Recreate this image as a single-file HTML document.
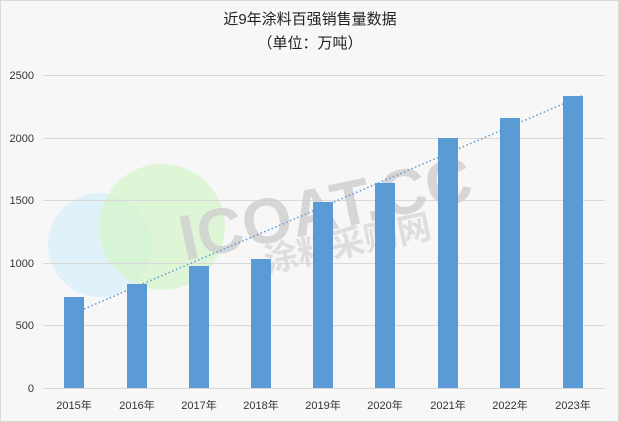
<!DOCTYPE html><html><head><meta charset="utf-8"><style>body{margin:0;background:#fff}svg{display:block}</style></head><body>
<svg width="619" height="422" xmlns="http://www.w3.org/2000/svg" font-family="Liberation Sans, Noto Sans CJK SC, sans-serif">
<rect x="0" y="0" width="619" height="422" fill="#f7f7f7"/>
<rect x="0.5" y="0.5" width="618" height="421" fill="none" stroke="#d9d9d9"/>
<text x="310" y="24" font-size="15" text-anchor="middle" fill="#222">近9年涂料百强销售量数据</text>
<text x="310" y="48" font-size="15" text-anchor="middle" fill="#222">（单位：万吨）</text>
<circle cx="100" cy="245" r="52" fill="#d6eefb" opacity="0.7"/>
<circle cx="162" cy="227" r="63" fill="#d4f5c8" opacity="0.7"/>
<g stroke="#d9d9d9" stroke-width="1">
<line x1="43" y1="75.5" x2="605" y2="75.5"/><line x1="43" y1="138.5" x2="605" y2="138.5"/>
<line x1="43" y1="200.5" x2="605" y2="200.5"/><line x1="43" y1="263.5" x2="605" y2="263.5"/>
<line x1="43" y1="325.5" x2="605" y2="325.5"/><line x1="43" y1="388.5" x2="605" y2="388.5"/></g>
<g font-size="11" fill="#333" text-anchor="end">
<text x="34" y="79">2500</text><text x="34" y="142">2000</text><text x="34" y="204">1500</text>
<text x="34" y="267">1000</text><text x="34" y="329">500</text><text x="34" y="392">0</text></g>
<text x="330" y="230" font-size="64" font-weight="bold" fill="#cfcfcf" opacity="0.8" transform="rotate(-12 330 230)" text-anchor="middle">ICOAT.CC</text>
<text x="350" y="255" font-size="34" font-weight="bold" fill="#d8d8d8" opacity="0.8" transform="rotate(-12 350 255)" text-anchor="middle">涂料采购网</text>
<g fill="#5b9bd5">
<rect x="64" y="297" width="20" height="91"/>
<rect x="127" y="284" width="20" height="104"/>
<rect x="189" y="266" width="20" height="122"/>
<rect x="251" y="259" width="20" height="129"/>
<rect x="313" y="202" width="20" height="186"/>
<rect x="375" y="183" width="20" height="205"/>
<rect x="438" y="138" width="20" height="250"/>
<rect x="500" y="118" width="20" height="270"/>
<rect x="563" y="96" width="20" height="292"/></g>
<line x1="84" y1="309" x2="584" y2="95" stroke="#5b9bd5" stroke-width="1.5" stroke-dasharray="1.5,2.5"/>
<g font-size="11" fill="#333" text-anchor="middle">
<text x="74" y="409">2015年</text><text x="137" y="409">2016年</text><text x="199" y="409">2017年</text>
<text x="261" y="409">2018年</text><text x="323" y="409">2019年</text><text x="385" y="409">2020年</text>
<text x="448" y="409">2021年</text><text x="510" y="409">2022年</text><text x="573" y="409">2023年</text></g>
</svg></body></html>
